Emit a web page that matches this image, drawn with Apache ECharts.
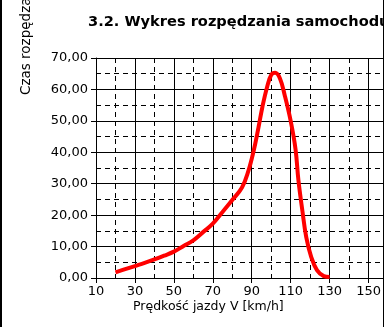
<!DOCTYPE html>
<html>
<head>
<meta charset="utf-8">
<script src="https://cdn.jsdelivr.net/npm/echarts@6/dist/echarts.min.js"></script>
<style>
  html, body { margin: 0; padding: 0; background: #ffffff; }
  #chart { width: 388px; height: 327px; }
</style>
</head>
<body>
<div id="chart"></div>
<script>
// Vehicle acceleration curve: speed V [km/h] vs. acceleration time
const speeds = [20, 25, 30, 35, 40, 45, 50, 55, 60, 65, 70, 75, 80, 85, 88, 91, 93.5, 95.5, 98, 100, 102, 104.5, 107, 110, 112.5, 114, 116, 118, 120.5, 123.5, 127, 130];
const times  = [1.8, 2.8, 3.8, 4.8, 5.9, 7.1, 8.4, 10.2, 12.0, 14.6, 17.3, 21.0, 24.8, 28.8, 33.5, 40.5, 48.0, 54.5, 61.0, 64.6, 65.3, 63.5, 58.0, 50.0, 41.0, 31.0, 21.5, 13.0, 6.8, 2.5, 0.6, 0.3];

const titleText = '3.2. Wykres rozpędzania samochodu';
const xName = 'Prędkość jazdy V [km/h]';
const yName = 'Czas rozpędzania [s]';

const xMin = 10, xMax = 160, xStep = 20;
const yMin = 0, yMax = 70, yStep = 10;

const font = 'DejaVu Sans';
const chart = echarts.init(document.getElementById('chart'), null, { renderer: 'canvas' });

const solid = { color: '#000000', width: 1, type: 'solid' };
const dashed = { color: '#000000', width: 1, type: [5, 4] };

chart.setOption({
  animation: false,
  backgroundColor: '#ffffff',
  grid: { left: 96, right: 0, top: 58, bottom: 49, containLabel: false },
  xAxis: {
    type: 'value',
    min: xMin, max: xMax, interval: xStep,
    axisLine: { show: true, onZero: false, lineStyle: solid },
    axisTick: { show: true, length: 5, lineStyle: solid },
    axisLabel: { color: '#000', fontFamily: font, fontSize: 13, margin: 7, showMaxLabel: false },
    splitLine: { show: true, lineStyle: solid },
    minorTick: { show: false, splitNumber: 2 },
    minorSplitLine: { show: true, lineStyle: dashed }
  },
  yAxis: {
    type: 'value',
    min: yMin, max: yMax, interval: yStep,
    axisLine: { show: true, lineStyle: solid },
    axisTick: { show: true, length: 5, lineStyle: solid },
    axisLabel: {
      color: '#000', fontFamily: font, fontSize: 13, margin: 8,
      formatter: v => v.toFixed(2).replace('.', ',')
    },
    splitLine: { show: true, lineStyle: solid },
    minorTick: { show: false, splitNumber: 2 },
    minorSplitLine: { show: true, lineStyle: dashed }
  },
  series: [{
    type: 'line',
    data: speeds.map((v, i) => [v, times[i]]),
    showSymbol: false,
    smooth: 0.4,
    lineStyle: { color: '#ff0000', width: 4 },
    z: 5
  }],
  graphic: [
    {
      type: 'text', left: 88, top: 15, z: 10,
      style: { text: titleText, fill: '#000', font: 'bold 14.6px "DejaVu Sans"' }
    },
    {
      type: 'text', x: 33, y: 95, rotation: Math.PI / 2, z: 10,
      style: { text: yName, fill: '#000', font: '13.5px "DejaVu Sans"', textAlign: 'left', textVerticalAlign: 'bottom' }
    },
    {
      type: 'text', left: 133, top: 300, z: 10,
      style: { text: xName, fill: '#000', font: '12.5px "DejaVu Sans"' }
    },
    // chart frame: white margin beyond the right edge and the frame lines
    {
      type: 'rect', shape: { x: 384, y: 0, width: 10, height: 327 }, z: 20,
      style: { fill: '#ffffff' }
    },
    {
      type: 'line', shape: { x1: 383.5, y1: 0, x2: 383.5, y2: 327 }, z: 21,
      style: { stroke: '#000', lineWidth: 1 }
    },
    {
      type: 'line', shape: { x1: 1, y1: 0, x2: 1, y2: 327 }, z: 21,
      style: { stroke: '#000', lineWidth: 2 }
    }
  ]
});
</script>
</body>
</html>
